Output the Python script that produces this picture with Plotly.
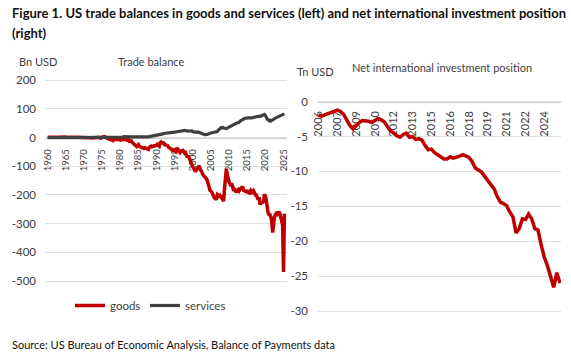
import plotly.graph_objects as go
import pandas as pd

W, H = 571, 353


def fx(px):
    return px / W


def fy(py):
    return 1 - py / H


# ---------------- data ----------------
# US trade balance, quarterly, Bn USD, 1960Q1 - 2025Q2
goods = [
    1.0, 1.3, 1.3, 1.4,  # 1960
    1.6, 1.4, 1.3, 1.4,  # 1961
    1.2, 1.3, 1.2, 0.8,  # 1962
    1.2, 1.3, 1.4, 1.4,  # 1963
    1.7, 1.6, 1.7, 1.8,  # 1964
    1.1, 1.3, 1.2, 1.2,  # 1965
    1.0, 1.0, 0.9, 0.9,  # 1966
    1.0, 1.0, 1.0, 0.9,  # 1967
    0.4, 0.2, 0.2, 0.1,  # 1968
    0.1, 0.2, 0.2, 0.2,  # 1969
    0.6, 0.8, 0.7, 0.6,  # 1970
    0.3, -0.3, -0.4, -1.1,  # 1971
    -1.7, -1.6, -1.6, -1.5,  # 1972
    -0.6, 0.0, 0.6, 0.9,  # 1973
    0.4, -1.3, -2.0, -2.5,  # 1974
    1.4, 2.5, 2.2, 2.8,  # 1975
    0.3, -1.8, -2.5, -3.4,  # 1976
    -6.8, -7.3, -7.6, -9.7,  # 1977
    -10.7, -7.4, -8.1, -7.3,  # 1978
    -7.1, -7.3, -6.2, -8.8,  # 1979
    -9.1, -6.0, -2.9, -7.5,  # 1980
    -5.6, -6.8, -7.2, -8.9,  # 1981
    -4.8, -6.3, -12.9, -12.2,  # 1982
    -11.3, -16.5, -19.3, -19.9,  # 1983
    -25.6, -28.3, -31.2, -27.7,  # 1984
    -24.8, -31.3, -32.7, -33.3,  # 1985
    -35.4, -35.8, -38.2, -35.6,  # 1986
    -37.2, -39.1, -41.6, -41.6,  # 1987
    -34.5, -30.2, -30.3, -32.2,  # 1988
    -28.9, -28.8, -29.3, -28.7,  # 1989
    -26.8, -24.0, -29.7, -30.3,  # 1990
    -18.5, -15.6, -19.3, -20.8,  # 1991
    -19.1, -25.0, -26.8, -25.8,  # 1992
    -27.7, -33.2, -35.6, -36.2,  # 1993
    -37.8, -41.4, -44.7, -42.4,  # 1994
    -45.3, -48.5, -40.2, -39.4,  # 1995
    -42.3, -45.6, -52.5, -47.6,  # 1996
    -47.3, -44.8, -49.1, -54.6,  # 1997
    -53.1, -63.2, -68.9, -62.9,  # 1998
    -71.6, -84.6, -92.9, -97.3,  # 1999
    -102.1, -107.5, -117.6, -119.4,  # 2000
    -113.2, -107.2, -103.7, -98.6,  # 2001
    -109.1, -120.9, -121.0, -128.4,  # 2002
    -131.7, -136.2, -136.5, -143.8,  # 2003
    -150.5, -164.2, -170.8, -184.3,  # 2004
    -186.9, -190.1, -198.3, -208.7,  # 2005
    -210.4, -211.4, -216.6, -199.2,  # 2006
    -203.9, -204.1, -201.4, -206.3,  # 2007
    -215.8, -219.4, -221.3, -176.5,  # 2008
    -125.0, -108.8, -128.9, -147.0,  # 2009
    -155.6, -162.1, -169.4, -160.0,  # 2010
    -176.2, -185.6, -181.3, -188.6,  # 2011
    -191.1, -183.0, -180.8, -186.1,  # 2012
    -177.9, -176.4, -174.3, -171.0,  # 2013
    -183.7, -185.4, -188.6, -188.7,  # 2014
    -186.9, -188.0, -192.9, -193.6,  # 2015
    -183.7, -188.1, -190.3, -186.1,  # 2016
    -196.7, -199.4, -199.6, -212.1,  # 2017
    -216.5, -208.4, -229.2, -229.4,  # 2018
    -222.5, -228.3, -220.4, -197.9,  # 2019
    -203.0, -218.6, -255.2, -262.8,  # 2020
    -268.2, -268.5, -276.0, -291.8,  # 2021
    -331.0, -300.6, -277.3, -268.7,  # 2022
    -264.5, -267.6, -263.6, -258.0,  # 2023
    -265.0, -275.0, -285.0, -305.0,  # 2024
    -468.0, -265.0,  # 2025
]

services = [
    -0.4, -0.3, -0.3, -0.3,  # 1960
    -0.2, -0.2, -0.2, -0.1,  # 1961
    -0.1, 0.0, -0.1, -0.1,  # 1962
    -0.1, -0.1, -0.1, 0.0,  # 1963
    0.0, 0.1, 0.1, 0.1,  # 1964
    0.1, 0.1, 0.1, 0.1,  # 1965
    0.0, -0.1, -0.2, -0.2,  # 1966
    -0.3, -0.3, -0.4, -0.4,  # 1967
    -0.1, -0.1, -0.1, -0.1,  # 1968
    -0.1, -0.1, -0.2, -0.2,  # 1969
    -0.1, -0.1, -0.1, -0.1,  # 1970
    0.2, 0.2, 0.2, 0.2,  # 1971
    0.2, 0.2, 0.2, 0.1,  # 1972
    0.2, 0.2, 0.2, 0.2,  # 1973
    0.4, 0.4, 0.6, 0.6,  # 1974
    0.8, 0.9, 0.9, 1.0,  # 1975
    0.8, 0.9, 0.9, 1.0,  # 1976
    0.9, 0.9, 0.9, 0.9,  # 1977
    1.0, 1.0, 1.1, 1.1,  # 1978
    0.7, 0.8, 0.8, 0.8,  # 1979
    1.3, 1.5, 1.6, 1.7,  # 1980
    2.8, 3.0, 3.1, 3.2,  # 1981
    3.2, 3.1, 3.0, 2.9,  # 1982
    2.6, 2.3, 2.1, 2.1,  # 1983
    1.1, 0.8, 0.6, 0.5,  # 1984
    0.2, 0.1, 0.1, 0.0,  # 1985
    0.5, 1.3, 1.9, 2.3,  # 1986
    1.9, 1.8, 2.0, 1.9,  # 1987
    3.0, 3.5, 3.6, 4.0,  # 1988
    6.3, 7.1, 7.6, 8.2,  # 1989
    8.1, 9.0, 9.5, 10.0,  # 1990
    10.3, 11.2, 11.7, 12.5,  # 1991
    13.8, 14.0, 14.2, 14.1,  # 1992
    15.1, 15.4, 15.6, 15.9,  # 1993
    16.5, 17.3, 17.6, 18.0,  # 1994
    18.5, 19.1, 19.7, 20.0,  # 1995
    21.5, 22.0, 22.8, 23.6,  # 1996
    24.7, 25.4, 25.0, 24.8,  # 1997
    23.6, 22.5, 21.9, 22.2,  # 1998
    22.6, 22.9, 22.4, 23.0,  # 1999
    20.3, 19.4, 18.8, 18.7,  # 2000
    18.2, 17.6, 19.0, 17.2,  # 2001
    15.4, 14.6, 14.0, 13.2,  # 2002
    11.1, 10.2, 9.7, 9.8,  # 2003
    10.7, 12.0, 12.3, 12.7,  # 2004
    15.4, 16.5, 17.3, 18.0,  # 2005
    18.4, 19.4, 19.6, 20.6,  # 2006
    24.9, 28.3, 31.7, 33.9,  # 2007
    33.5, 34.9, 32.9, 31.8,  # 2008
    30.3, 31.3, 32.6, 33.2,  # 2009
    36.2, 38.0, 39.7, 40.6,  # 2010
    44.2, 46.5, 48.3, 50.5,  # 2011
    50.1, 51.1, 51.6, 52.5,  # 2012
    56.6, 59.1, 61.7, 63.1,  # 2013
    64.0, 66.0, 67.0, 68.0,  # 2014
    69.0, 68.0, 68.0, 69.0,  # 2015
    68.0, 68.0, 69.0, 69.0,  # 2016
    70.0, 72.0, 72.0, 74.0,  # 2017
    75.0, 74.0, 73.0, 74.0,  # 2018
    76.0, 78.0, 79.0, 80.0,  # 2019
    77.0, 68.0, 63.5, 62.0,  # 2020
    58.5, 60.0, 57.0, 59.0,  # 2021
    62.0, 64.0, 66.0, 67.5,  # 2022
    69.0, 70.5, 72.0, 72.5,  # 2023
    74.0, 76.0, 77.5, 79.0,  # 2024
    80.5, 82.0,  # 2025
]

# Net international investment position, quarterly, Tn USD, 2006Q1 - 2025Q2
niip = [
    -1.9, -2.1, -1.9, -1.7,  # 2006
    -1.5, -1.3, -1.2, -1.4,  # 2007
    -1.8, -2.6, -3.4, -3.9,  # 2008
    -3.4, -3.0, -2.7, -2.7,  # 2009
    -2.8, -3.0, -2.7, -2.4,  # 2010
    -2.6, -2.9, -3.6, -4.2,  # 2011
    -4.5, -4.9, -5.1, -4.7,  # 2012
    -4.5, -5.1, -5.0, -5.4,  # 2013
    -5.3, -5.5, -6.3, -6.9,  # 2014
    -6.8, -7.3, -7.6, -7.9,  # 2015
    -8.2, -8.2, -7.9, -8.1,  # 2016
    -8.0, -7.8, -7.6, -7.8,  # 2017
    -8.0, -8.6, -9.5, -9.8,  # 2018
    -10.1, -10.7, -11.3, -11.9,  # 2019
    -12.5, -13.6, -14.4, -14.6,  # 2020
    -14.9, -15.8, -16.5, -18.8,  # 2021
    -18.2, -16.8, -16.9, -16.1,  # 2022
    -16.8, -18.2, -18.4, -20.5,  # 2023
    -22.3, -23.5, -25.0, -26.6,  # 2024
    -24.5, -26.0,  # 2025
]

left_quarters = pd.period_range("1960Q1", "2025Q2", freq="Q").to_timestamp()
right_quarters = [f"{p.year}Q{p.quarter}" for p in pd.period_range("2006Q1", "2025Q2", freq="Q")]
assert len(goods) == len(left_quarters) == len(services)
assert len(niip) == len(right_quarters)

left_years = list(range(1960, 2030, 5))
left_yticks = [200, 100, 0, -100, -200, -300, -400, -500]
right_yticks = [0, -5, -10, -15, -20, -25, -30]
right_xtickvals = right_quarters[::6]
right_xticktext = [q[:4] for q in right_xtickvals]

RED = "#C00000"
GREY = "#404040"
GRID = "#E0E0E0"
TXT = "#404040"
FONT = "Lato"

fig = go.Figure()
fig.add_trace(go.Scatter(x=left_quarters, y=goods, name="goods", mode="lines",
                         line=dict(color=RED, width=3.5), xaxis="x", yaxis="y",
                         legend="legend"))
fig.add_trace(go.Scatter(x=left_quarters, y=services, name="services", mode="lines",
                         line=dict(color=GREY, width=3.2), xaxis="x", yaxis="y",
                         legend="legend2"))
fig.add_trace(go.Scatter(x=right_quarters, y=niip, name="NIIP", mode="lines",
                         line=dict(color=RED, width=3.5), xaxis="x2", yaxis="y2",
                         showlegend=False))

legend_common = dict(orientation="h", xanchor="left", yanchor="top",
                     font=dict(size=11.5, color=TXT), bgcolor="rgba(0,0,0,0)")

fig.update_layout(
    width=W, height=H,
    margin=dict(l=0, r=0, t=0, b=0),
    paper_bgcolor="white", plot_bgcolor="white",
    font=dict(family=FONT, color=TXT, size=11),
    xaxis=dict(
        domain=[fx(45), fx(287)], type="date",
        range=["1959-04-04", "2025-12-17"],
        anchor="free", position=fy(137.5),
        tickvals=[pd.Timestamp(f"{y}-01-01") for y in left_years],
        ticktext=[str(y) for y in left_years],
        tickangle=-90, ticks="", showgrid=False,
        showline=True, linecolor="#D0D0D0", linewidth=1,
        tickfont=dict(size=9.5, color=TXT), ticklabelstandoff=7,
        layer="below traces", automargin=False,
    ),
    yaxis=dict(
        domain=[fy(282.6), fy(78.56)], range=[-505, 205], anchor="x",
        tickvals=left_yticks, ticktext=[str(v) for v in left_yticks],
        gridcolor=GRID, gridwidth=1, zeroline=False, ticks="",
        tickfont=dict(size=11.5, color=TXT), ticklabelstandoff=8,
        automargin=False,
    ),
    xaxis2=dict(
        domain=[fx(318), fx(561)], type="category",
        range=[-0.16, 77.33],
        anchor="free", position=fy(101.7),
        tickvals=right_xtickvals, ticktext=right_xticktext,
        tickangle=-90, ticks="", showgrid=False,
        showline=True, linecolor="#D0D0D0", linewidth=1,
        tickfont=dict(size=11, color=TXT), ticklabelstandoff=4,
        layer="below traces", automargin=False,
    ),
    yaxis2=dict(
        domain=[fy(314.5), fy(98.2)], range=[-30.5, 0.5], anchor="x2",
        tickvals=right_yticks, ticktext=[str(v) for v in right_yticks],
        gridcolor=GRID, gridwidth=1, zeroline=False, ticks="",
        tickfont=dict(size=11.5, color=TXT), ticklabelstandoff=9,
        automargin=False,
    ),
    legend=dict(x=fx(70), y=fy(291), **legend_common),
    legend2=dict(x=fx(145), y=fy(291), **legend_common),
    showlegend=True,
)

ann = [
    dict(text="<b>Figure 1. US trade balances in goods and services (left) and net international investment position</b>",
         x=fx(11), y=fy(4), font=dict(size=13, color="#111111")),
    dict(text="<b>(right)</b>", x=fx(11), y=fy(24), font=dict(size=13, color="#111111")),
    dict(text="Bn USD", x=fx(18), y=fy(54), font=dict(size=11, color=TXT)),
    dict(text="Trade balance", x=fx(117), y=fy(54), font=dict(size=11, color=TXT)),
    dict(text="Tn USD", x=fx(296), y=fy(64), font=dict(size=11, color=TXT)),
    dict(text="Net international investment position", x=fx(351), y=fy(60), font=dict(size=11, color=TXT)),
    dict(text="Source: US Bureau of Economic Analysis, Balance of Payments data",
         x=fx(11), y=fy(337), font=dict(size=11, color="#111111")),
]
for a in ann:
    fig.add_annotation(xref="paper", yref="paper", xanchor="left", yanchor="top",
                       showarrow=False, borderpad=0, **a)

fig.write_html("out.html")
